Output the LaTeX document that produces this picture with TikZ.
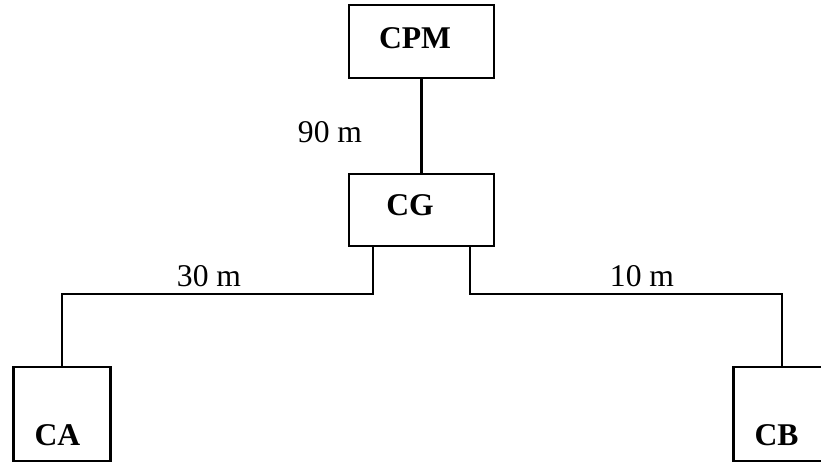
\documentclass[tikz,border=0pt]{standalone}
\usepackage{fontspec}
\setmainfont{Liberation Serif}
\usepackage{tikz}
\usetikzlibrary{positioning, calc}
\tikzset{
  room/.style={rectangle, draw=black, fill=white, line width=1.2pt, inner sep=0pt},
  roomname/.style={font=\fontsize{18}{21}\selectfont\bfseries, inner sep=0pt},
  dist/.style={font=\fontsize{18}{21}\selectfont, inner sep=0pt},
  wire/.style={line width=1.2pt, color=black},
  thinwire/.style={line width=0.6pt, color=black}
}
\begin{document}
\begin{tikzpicture}[x=0.02cm, y=-0.02cm]
  \useasboundingbox (0,0) rectangle (821,462);
  \clip (0,0) rectangle (821,462);

  % Boxes
  \node[room, minimum width=2.9cm, minimum height=1.46cm] (cpm) at (421.5,41.5) {};
  \node[room, minimum width=2.9cm, minimum height=1.44cm] (cg) at (421.5,210) {};
  \node[room, minimum width=1.94cm, minimum height=1.88cm] (ca) at (62,414) {};
  \node[room, minimum width=1.94cm, minimum height=1.88cm] (cb) at (782,414) {};

  % Names
  \node[roomname] (cpmtxt) at (415,38) {CPM};
  \node[roomname] (cgtxt) at (410,205) {CG};
  \node[roomname] (catxt) at (57.5,435) {CA};
  \node[roomname] (cbtxt) at (776.5,435) {CB};

  % Cable corners and label marks
  \coordinate (lcorner) at (62,294);
  \coordinate (rcorner) at (782,294);
  \coordinate (la) at (157,294);
  \coordinate (lb) at (279,294);
  \coordinate (ra) at (590,294);
  \coordinate (rb) at (711,294);

  % Cables
  \draw[wire] (cpm.south) -- (cg.north);
  \draw[wire] ([xshift=-0.97cm]cg.south) |- (lb);
  \draw[thinwire] (lb) -- (la);
  \draw[wire] (la) -- (lcorner) -- (ca.north);
  \draw[wire] ([xshift=0.97cm]cg.south) |- (ra);
  \draw[thinwire] (ra) -- (rb);
  \draw[wire] (rb) -- (rcorner) -- (cb.north);

  % Distances
  \node[dist] (d90) at (330,132) {90 m};
  \node[dist] (d30) at (209,276) {30 m};
  \node[dist] (d10) at (642,276) {10 m};
\end{tikzpicture}
\end{document}
